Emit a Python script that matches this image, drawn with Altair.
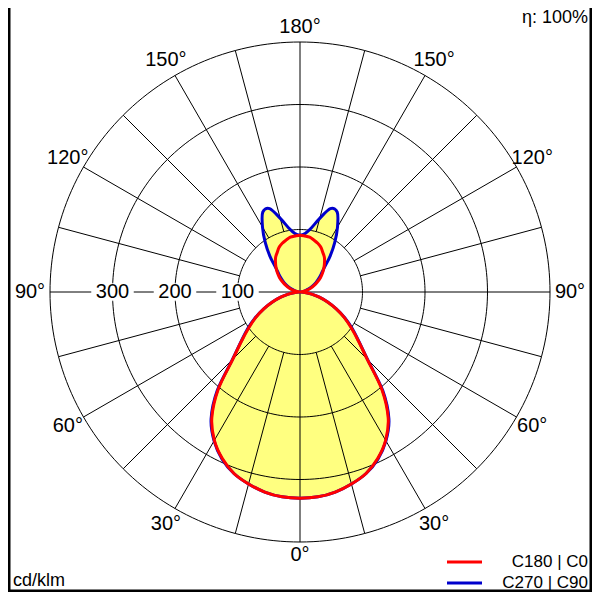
import numpy as np
import pandas as pd
import altair as alt

# ---------------- data (cd/klm), gamma angle 0..180 in 5 degree steps ----------------
gamma = list(range(0, 181, 5))
c0_c180 = [330, 329, 325, 318, 309, 294, 274, 246, 204, 152, 122, 100, 82, 64, 47, 32, 19, 8, 0,
           2, 7, 12, 18, 25, 32, 40, 47, 54, 61, 68, 73, 79, 83, 86, 89, 90, 91]
c90_c270 = [330, 329, 325, 318, 309, 295, 275, 248, 206, 153, 123, 102, 83, 64, 47, 32, 19, 8, 0,
            1, 4, 9, 15, 22, 29, 36, 44, 55, 75, 97, 120, 141, 142, 122, 104, 94, 91]

rings = [100, 200, 300, 400]
ring_labels = ["100", "200", "300"]
spoke_angles = [15, 30, 45, 60, 75, 105, 120, 135, 150, 165]
angle_label_values = [0, 30, 60, 90, 120, 150, 180]
legend_names = ["C180 | C0", "C270 | C90"]
legend_colors = ["#ff0000", "#0000cc"]
unit_label = "cd/klm"
efficiency_label = "η: 100%"

# ---------------- geometry helpers ----------------
XS = alt.Scale(domain=[-467.2, 467.2], nice=False, zero=False)
YS = alt.Scale(domain=[-480, 454.4], nice=False, zero=False)


def X(f="x"):
    return alt.X(f, type="quantitative", scale=XS, axis=None)


def Y(f="y"):
    return alt.Y(f, type="quantitative", scale=YS, axis=None)


def outline(vals, name):
    rows = []
    k = 0
    for g, v in zip(gamma, vals):  # right half
        t = np.radians(g)
        rows.append({"x": v * np.sin(t), "y": -v * np.cos(t), "k": k, "curve": name})
        k += 1
    for g, v in zip(gamma[::-1][1:-1], vals[::-1][1:-1]):  # left half
        t = np.radians(g)
        rows.append({"x": -v * np.sin(t), "y": -v * np.cos(t), "k": k, "curve": name})
        k += 1
    return rows


red_df = pd.DataFrame(outline(c0_c180, legend_names[0]))
blue_df = pd.DataFrame(outline(c90_c270, legend_names[1]))
both_df = pd.concat([blue_df, red_df])

# rings
ring_rows = []
tt = np.linspace(0, 2 * np.pi, 241)
for r in rings:
    for i, t in enumerate(tt):
        ring_rows.append({"x": r * np.sin(t), "y": r * np.cos(t), "k": i, "r": r})
ring_df = pd.DataFrame(ring_rows)

# spokes
spoke_rows = []
for a in spoke_angles:
    t = np.radians(a)
    for s in (-1, 1):
        spoke_rows.append({"x": s * rings[0] * np.sin(t), "y": -rings[0] * np.cos(t),
                           "x2": s * rings[-1] * np.sin(t), "y2": -rings[-1] * np.cos(t)})
spoke_rows.append({"x": 0, "y": -rings[-1], "x2": 0, "y2": rings[-1]})
spoke_rows.append({"x": -rings[-1], "y": 0, "x2": rings[-1], "y2": 0})
spoke_df = pd.DataFrame(spoke_rows)

# ring value labels on the left horizontal axis
rl_df = pd.DataFrame({"x": [-int(v) for v in ring_labels], "y": [0] * 3, "t": ring_labels})
rl_df["xa"] = rl_df["x"] - 34
rl_df["xb"] = rl_df["x"] + 34
rl_df["ya"] = -14
rl_df["yb"] = 14

# angle labels
al_rows = []
for a in angle_label_values:
    t = np.radians(a)
    if a in (0, 180):
        r = 421 if a == 0 else 424
        al_rows.append({"x": 0, "y": -r * np.cos(t), "t": f"{a}°"})
    else:
        r = 432 if a == 90 else 429
        for s in (-1, 1):
            al_rows.append({"x": s * r * np.sin(t), "y": -r * np.cos(t), "t": f"{a}°"})
al_df = pd.DataFrame(al_rows)

FONT = "Liberation Sans"
YELLOW = "#ffff80"

fill = alt.Chart(both_df).mark_line(fill=YELLOW, stroke=YELLOW, strokeWidth=0.5,
                                    interpolate="cardinal-closed").encode(
    x=X(), y=Y(), order="k:Q", detail="curve:N")

ring_layer = alt.Chart(ring_df).mark_line(color="black", strokeWidth=1).encode(
    x=X(), y=Y(), order="k:Q", detail="r:N")

spoke_layer = alt.Chart(spoke_df).mark_rule(color="black", strokeWidth=1).encode(
    x=X(), y=Y(), x2="x2:Q", y2="y2:Q")

rl_bg = alt.Chart(rl_df).mark_rect(color="white").encode(
    x=X("xa"), x2="xb:Q", y=Y("ya"), y2="yb:Q")
rl_text = alt.Chart(rl_df).mark_text(font=FONT, fontSize=20, color="black",
                                     baseline="middle", align="center").encode(
    x=X(), y=Y(), text="t:N")
al_text = alt.Chart(al_df).mark_text(font=FONT, fontSize=20, color="black",
                                     baseline="middle", align="center").encode(
    x=X(), y=Y(), text="t:N")

blue_line = alt.Chart(blue_df).mark_line(color=legend_colors[1], strokeWidth=3,
                                         interpolate="cardinal-closed").encode(
    x=X(), y=Y(), order="k:Q")
red_line = alt.Chart(red_df).mark_line(color=legend_colors[0], strokeWidth=3,
                                       interpolate="cardinal-closed").encode(
    x=X(), y=Y(), order="k:Q")

legend_layers = []
for i, (nm, col) in enumerate(zip(legend_names, legend_colors)):
    ypix = 554 + 21 * i
    d = pd.DataFrame({"t": [nm]})
    legend_layers.append(alt.Chart(d).mark_rule(color=col, strokeWidth=3).encode(
        x=alt.value(439), x2=alt.value(474), y=alt.value(ypix)))
    legend_layers.append(alt.Chart(d).mark_text(
        font=FONT, fontSize=17, align="right", baseline="middle", color="black").encode(
        x=alt.value(580), y=alt.value(ypix), text="t:N"))

unit_text = alt.Chart(pd.DataFrame({"t": [unit_label]})).mark_text(
    font=FONT, fontSize=18, align="left", baseline="middle", color="black").encode(
    x=alt.value(5), y=alt.value(573), text="t:N")
eff_text = alt.Chart(pd.DataFrame({"t": [efficiency_label]})).mark_text(
    font=FONT, fontSize=18, align="right", baseline="middle", color="black").encode(
    x=alt.value(580), y=alt.value(10), text="t:N")

one = pd.DataFrame({"a": [0]})
frame = alt.Chart(one).mark_rule(color="black", strokeWidth=3).encode(
    x=alt.value(1), y=alt.value(0), y2=alt.value(584))
frame_r = alt.Chart(one).mark_rule(color="black", strokeWidth=3).encode(
    x=alt.value(583), y=alt.value(0), y2=alt.value(584))
frame_b = alt.Chart(one).mark_rule(color="black", strokeWidth=3).encode(
    x=alt.value(0), x2=alt.value(584), y=alt.value(583))

chart = alt.layer(
    fill, ring_layer, spoke_layer, rl_bg, rl_text, al_text, blue_line, red_line,
    *legend_layers, unit_text, eff_text, frame, frame_r, frame_b
).properties(
    width=584, height=584, autosize=alt.AutoSizeParams(type="none"), padding=0,
    background="white"
).configure_view(stroke=None)

chart.save("out.html", embed_options={"renderer": "svg", "actions": False})
